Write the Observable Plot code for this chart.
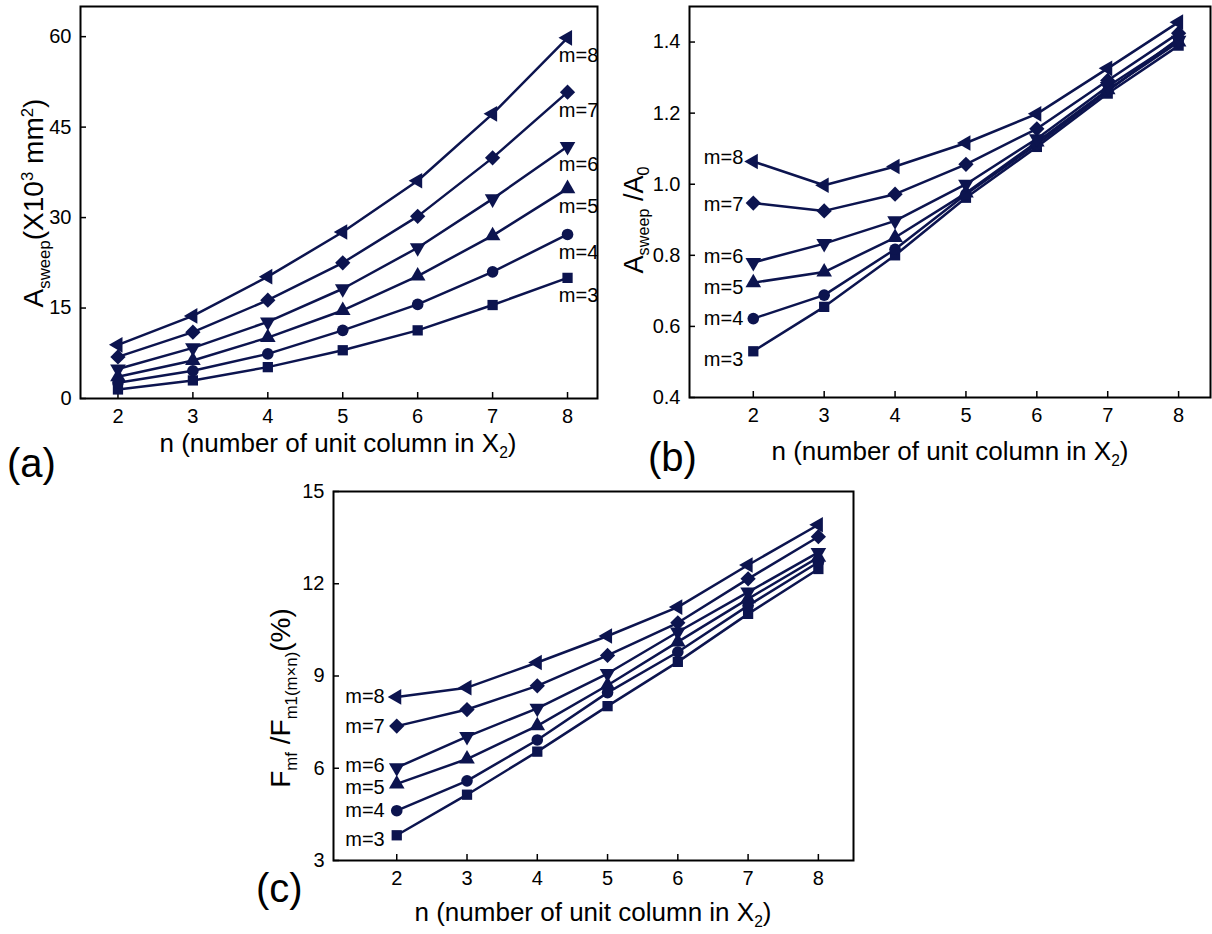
<!DOCTYPE html>
<html><head><meta charset="utf-8">
<script src="https://cdn.jsdelivr.net/npm/d3@7"></script>
<script src="https://cdn.jsdelivr.net/npm/@observablehq/plot@0.6"></script>
<style>
body{margin:0;background:#fff;}
#wrap{position:relative;width:1212px;height:934px;background:#fff;font-family:"Liberation Sans",Arial,sans-serif;color:#000;overflow:hidden}
.panel{position:absolute}
.t{position:absolute;white-space:nowrap;line-height:1}
.yt{transform:translate(-50%,-50%) rotate(-90deg)}
.xt{transform:translate(-50%,-50%)}
.t sub,.t sup{font-size:0.6em;line-height:0}
</style></head><body><div id="wrap"></div>
<script>
// ---- data ----
const nValues = [2, 3, 4, 5, 6, 7, 8];
const mValues = [3, 4, 5, 6, 7, 8];
// (a) A_sweep (x10^3 mm^2), rows m=3..8, columns n=2..8
const sweepArea = [
  [1.5, 3.0, 5.2, 8.0, 11.3, 15.5, 20.0],
  [2.6, 4.6, 7.4, 11.3, 15.6, 21.0, 27.2],
  [3.6, 6.3, 10.1, 14.6, 20.3, 27.0, 34.8],
  [4.9, 8.4, 12.7, 18.2, 25.0, 33.1, 41.8],
  [6.9, 11.0, 16.3, 22.5, 30.2, 39.9, 50.8],
  [8.9, 13.7, 20.2, 27.6, 36.1, 47.2, 59.8]
];
// (b) A_sweep / A_0
const sweepRatio = [
  [0.530, 0.655, 0.800, 0.962, 1.105, 1.255, 1.390],
  [0.622, 0.688, 0.817, 0.972, 1.112, 1.262, 1.410],
  [0.723, 0.753, 0.850, 0.975, 1.119, 1.266, 1.400],
  [0.780, 0.833, 0.897, 1.000, 1.128, 1.275, 1.405],
  [0.947, 0.925, 0.972, 1.056, 1.156, 1.292, 1.425],
  [1.064, 0.997, 1.050, 1.116, 1.198, 1.326, 1.456]
];
// (c) F_mf / F_m1(m×n) (%)
const forceRatio = [
  [3.82, 5.14, 6.54, 8.02, 9.46, 11.02, 12.48],
  [4.62, 5.59, 6.92, 8.46, 9.78, 11.29, 12.70],
  [5.49, 6.30, 7.38, 8.70, 10.11, 11.51, 12.86],
  [6.02, 7.03, 7.95, 9.08, 10.43, 11.73, 13.02],
  [7.37, 7.91, 8.68, 9.67, 10.73, 12.16, 13.53],
  [8.32, 8.62, 9.44, 10.30, 11.24, 12.61, 13.92]
];
const ticksA = [0, 15, 30, 45, 60];
const ticksB = [0.4, 0.6, 0.8, 1.0, 1.2, 1.4];
const ticksC = [3, 6, 9, 12, 15];

// ---- styling ----
const navy = "#0c144f";
const font = '"Liberation Sans", Arial, sans-serif';
const sqrt3 = Math.sqrt(3);
const triUp = {draw(c, s){const y=-Math.sqrt(s/(sqrt3*3)); c.moveTo(0,y*2); c.lineTo(-sqrt3*y,-y); c.lineTo(sqrt3*y,-y); c.closePath();}};
const triDown = {draw(c, s){const y=Math.sqrt(s/(sqrt3*3)); c.moveTo(0,y*2); c.lineTo(-sqrt3*y,-y); c.lineTo(sqrt3*y,-y); c.closePath();}};
const triLeft = {draw(c, s){const y=-Math.sqrt(s/(sqrt3*3)); c.moveTo(y*2,0); c.lineTo(-y,-sqrt3*y); c.lineTo(-y,sqrt3*y); c.closePath();}};
const diamond = {draw(c, s){const r=Math.sqrt(s/2)*1.05; c.moveTo(0,-r); c.lineTo(r,0); c.lineTo(0,r); c.lineTo(-r,0); c.closePath();}};
const symbols = {3: "square", 4: "circle", 5: triUp, 6: triDown, 7: diamond, 8: triLeft};

function rows(values) {
  return mValues.flatMap((m, i) => nValues.map((n, j) => ({m, n, v: values[i][j]})));
}

function panel({values, xDomain, yDomain, yTicks, yFormat, width, height, margin, labelN, labelAnchor, labelDx, labelDy}) {
  const data = rows(values);
  const marks = [
    Plot.axisX({ticks: nValues, tickSize: -6, tickPadding: 16, label: null, fontSize: 20, strokeWidth: 1.5, tickFormat: d3.format("d")}),
    Plot.axisY({ticks: yTicks, tickSize: -6, tickPadding: 15, label: null, fontSize: 20, tickFormat: yFormat, strokeWidth: 1.5}),
    Plot.line(data, {x: "n", y: "v", z: "m", stroke: navy, strokeWidth: 2.5}),
    ...mValues.map(m => Plot.dot(data.filter(d => d.m === m), {x: "n", y: "v", symbol: symbols[m], fill: navy, stroke: "none", r: 5.8})),
    ...mValues.map(m => Plot.text(data.filter(d => d.m === m && d.n === labelN), {
      x: "n", y: "v", text: d => "m=" + d.m, textAnchor: labelAnchor, dx: labelDx, dy: labelDy(m),
      fontSize: 20, fill: "#000"
    })),
    Plot.frame({stroke: "#000", strokeWidth: 2})
  ];
  return Plot.plot({
    width, height,
    marginLeft: margin[0], marginRight: margin[1], marginTop: margin[2], marginBottom: margin[3],
    x: {domain: xDomain},
    y: {domain: yDomain},
    style: {fontFamily: font, fontSize: "20px", color: "#000", background: "transparent", overflow: "visible"},
    marks
  });
}

const wrap = document.getElementById("wrap");
function place(el, left, top) {
  el.classList.add("panel");
  el.style.left = left + "px";
  el.style.top = top + "px";
  wrap.appendChild(el);
}
function label(html, cls, x, y, size) {
  const d = document.createElement("div");
  d.className = "t " + cls;
  d.style.left = x + "px";
  d.style.top = y + "px";
  d.style.fontSize = size + "px";
  d.innerHTML = html;
  wrap.appendChild(d);
}

const dyB = {3: 8, 4: 0, 5: 5, 6: -6, 7: 2, 8: -4};
const dyC = {3: 4, 4: 0, 5: 4, 6: -2, 7: 0, 8: 0};

place(panel({
  values: sweepArea, xDomain: [1.5, 8.4], yDomain: [0, 65], yTicks: ticksA, yFormat: d3.format("d"),
  width: 610, height: 480, margin: [80, 13, 6, 82],
  labelN: 8, labelAnchor: "middle", labelDx: 11, labelDy: () => 18
}), 0, 0);

place(panel({
  values: sweepRatio, xDomain: [1.1, 8.45], yDomain: [0.4, 1.5], yTicks: ticksB, yFormat: d3.format(".1f"),
  width: 592, height: 480, margin: [69, 2, 6, 83],
  labelN: 2, labelAnchor: "end", labelDx: -10, labelDy: m => dyB[m]
}), 620, 0);

place(panel({
  values: forceRatio, xDomain: [1.1, 8.5], yDomain: [3, 15], yTicks: ticksC, yFormat: d3.format("d"),
  width: 620, height: 464, margin: [83, 17, 21, 74],
  labelN: 2, labelAnchor: "end", labelDx: -12, labelDy: m => dyC[m]
}), 250, 470);

const xTitle = "n (number of unit column in X<sub>2</sub>)";
label("A<sub>sweep</sub>(X10<sup>3</sup> mm<sup>2</sup>)", "yt", 34, 203, 28);
label(xTitle, "xt", 338, 443, 26);
label("(a)", "", 7, 443, 40);

label("A<sub>sweep</sub> /A<sub>0</sub>", "yt", 634, 220, 27);
label(xTitle, "xt", 950, 451, 26);
label("(b)", "", 648, 437, 40);

label("F<sub>mf</sub> /F<sub>m1(m×n)</sub>(%)", "yt", 281, 698, 28);
label(xTitle, "xt", 593, 912, 26);
label("(c)", "", 256, 868, 40);
</script></body></html>
